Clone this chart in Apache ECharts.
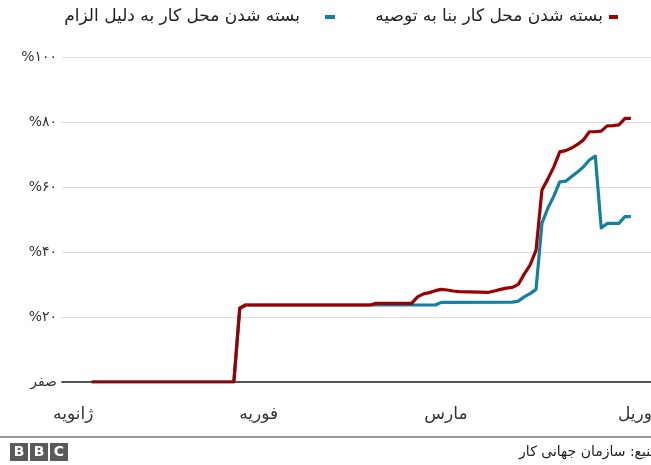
<!DOCTYPE html>
<html>
<head>
<meta charset="utf-8">
<script src="https://cdn.jsdelivr.net/npm/echarts@6/dist/echarts.min.js"></script>
<style>
  html, body { margin: 0; padding: 0; background: #fff; }
  #chart { width: 651px; height: 465px; }
</style>
</head>
<body>
<div id="chart"></div>
<script>
// Day index counted from 1 January; share of workers (%) under workplace closures
const legendAdvised = 'بسته شدن محل کار بنا به توصیه';
const legendRequired = 'بسته شدن محل کار به دلیل الزام';

const advisedDays = [0, 24, 25, 26, 47, 48, 54, 55, 56, 57, 58, 59, 60, 61, 62, 67, 68, 69, 70, 71, 72, 73, 74, 75, 76, 77, 78, 79, 80, 81, 82, 83, 84, 85, 86, 87, 88, 89, 90, 91];
const advisedValues = [0, 0, 22.7, 23.7, 23.7, 24.2, 24.2, 26.2, 27.1, 27.5, 28.1, 28.5, 28.3, 28.0, 27.8, 27.6, 28.0, 28.5, 28.9, 29.1, 30.0, 33.2, 36.0, 40.6, 59.1, 62.5, 66.2, 70.8, 71.2, 72.0, 73.1, 74.5, 77.0, 77.0, 77.2, 78.8, 78.9, 79.1, 81.1, 81.1];

const requiredDays = [0, 24, 25, 26, 58, 59, 71, 72, 73, 74, 75, 76, 77, 78, 79, 80, 81, 82, 83, 84, 85, 86, 87, 88, 89, 90, 91];
const requiredValues = [0, 0, 22.7, 23.7, 23.7, 24.5, 24.6, 24.9, 26.2, 27.2, 28.5, 48.9, 53.5, 57.2, 61.6, 61.8, 63.2, 64.6, 66.2, 68.3, 69.5, 47.4, 48.8, 48.8, 48.8, 50.9, 50.9];

// Month labels and where they sit on the day axis
const monthLabels = ['ژانویه', 'فوریه', 'مارس', 'آوریل'];
const monthPositions = [-3.1, 28.2, 59.8, 92.1];

// Y tick labels
const yTickValues = [0, 20, 40, 60, 80, 100];
const yTickLabels = ['صفر', '%۲۰', '%۴۰', '%۶۰', '%۸۰', '%۱۰۰'];

const sourceText = 'منبع: سازمان جهانی کار';

const FONT = '"DejaVu Sans", "Noto Sans", sans-serif';
const RED = '#990000';
const BLUE = '#1380A1';

function pairs(xs, ys) { return xs.map((x, i) => [x, ys[i]]); }

const chart = echarts.init(document.getElementById('chart'), null, { renderer: 'canvas' });

chart.setOption({
  animation: false,
  backgroundColor: '#ffffff',
  grid: { left: 62, right: 0, top: 57, bottom: 83, containLabel: false, outerBoundsMode: 'none' },
  xAxis: {
    type: 'value',
    min: -5,
    max: 94.4,
    axisLine: { show: true, lineStyle: { color: '#555555', width: 2 } },
    axisTick: { show: false },
    splitLine: { show: false },
    axisLabel: {
      customValues: monthPositions,
      margin: 24,
      color: '#333333',
      fontSize: 17,
      fontFamily: FONT,
      formatter: function (v) {
        let best = 0;
        monthPositions.forEach((p, i) => { if (Math.abs(p - v) < Math.abs(monthPositions[best] - v)) best = i; });
        return monthLabels[best];
      }
    }
  },
  yAxis: {
    type: 'value',
    min: 0,
    max: 100,
    interval: 20,
    axisLine: { show: false },
    axisTick: { show: false },
    splitLine: { show: true, lineStyle: { color: '#dddddd', width: 1 } },
    axisLabel: {
      margin: 5,
      color: '#333333',
      fontSize: 14,
      fontFamily: FONT,
      formatter: function (v) {
        const i = yTickValues.indexOf(Math.round(v));
        return i >= 0 ? yTickLabels[i] : '';
      }
    }
  },
  series: [
    {
      name: legendRequired,
      type: 'line',
      data: pairs(requiredDays, requiredValues),
      symbol: 'none',
      lineStyle: { color: BLUE, width: 3.2, join: 'round' },
      z: 2
    },
    {
      name: legendAdvised,
      type: 'line',
      data: pairs(advisedDays, advisedValues),
      symbol: 'none',
      lineStyle: { color: RED, width: 3.2, join: 'round' },
      z: 3
    }
  ],
  graphic: [
    // legend: advised
    { type: 'rect', shape: { x: 609, y: 15, width: 9, height: 4 }, style: { fill: RED } },
    { type: 'text', x: 603, y: 17, style: { text: legendAdvised, fill: '#222222', font: '17px ' + FONT, align: 'right', verticalAlign: 'middle' } },
    // legend: required
    { type: 'rect', shape: { x: 325, y: 15, width: 10, height: 4 }, style: { fill: BLUE } },
    { type: 'text', x: 300, y: 17, style: { text: legendRequired, fill: '#222222', font: '17px ' + FONT, align: 'right', verticalAlign: 'middle' } },
    // footer rule
    { type: 'rect', shape: { x: 0, y: 436, width: 651, height: 2 }, style: { fill: '#999999' } },
    // BBC blocks
    { type: 'rect', shape: { x: 10, y: 443, width: 18, height: 18 }, style: { fill: '#5a5a5a' } },
    { type: 'rect', shape: { x: 30, y: 443, width: 18, height: 18 }, style: { fill: '#5a5a5a' } },
    { type: 'rect', shape: { x: 50, y: 443, width: 18, height: 18 }, style: { fill: '#5a5a5a' } },
    { type: 'text', x: 19, y: 452.5, style: { text: 'B', fill: '#ffffff', font: 'bold 14px "DejaVu Sans", sans-serif', align: 'center', verticalAlign: 'middle' } },
    { type: 'text', x: 39, y: 452.5, style: { text: 'B', fill: '#ffffff', font: 'bold 14px "DejaVu Sans", sans-serif', align: 'center', verticalAlign: 'middle' } },
    { type: 'text', x: 59, y: 452.5, style: { text: 'C', fill: '#ffffff', font: 'bold 14px "DejaVu Sans", sans-serif', align: 'center', verticalAlign: 'middle' } },
    // source
    { type: 'text', x: 658, y: 452, style: { text: sourceText, fill: '#222222', font: '14px ' + FONT, align: 'right', verticalAlign: 'middle' } }
  ]
});
</script>
</body>
</html>
